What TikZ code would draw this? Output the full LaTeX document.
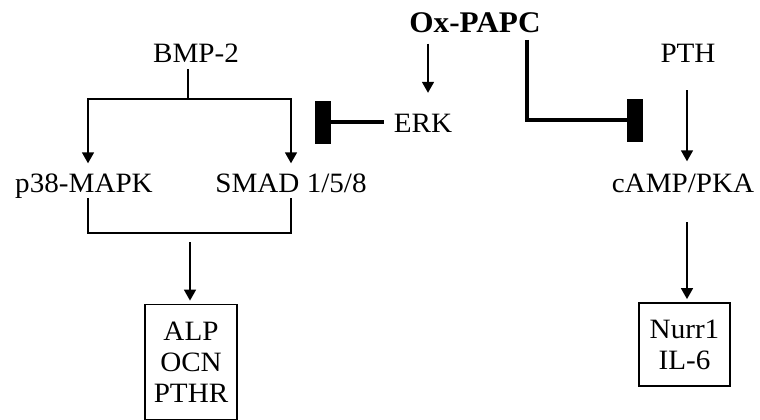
\documentclass[tikz,border=0pt]{standalone}
\usepackage{fontspec}
\setmainfont{Liberation Serif}[FakeStretch=1.04]
\usetikzlibrary{arrows.meta}
\begin{document}
\begin{tikzpicture}[x=1pt,y=-1pt,
  lbl/.style={inner sep=0pt, text height=19pt, text depth=6pt, font=\fontsize{28}{31}\selectfont},
  oxlbl/.style={inner sep=0pt, text height=20pt, text depth=6pt, font=\fontsize{30}{32}\selectfont\bfseries},
  conn/.style={line width=1.6pt},
  arr/.style={conn, -{Triangle[width=12pt,length=11pt]}},
  inh/.style={line width=4.5pt, -{Rectangle[length=16pt,width=43pt]}},
  outbox/.style={draw, line width=1.8pt, inner sep=0pt, align=center, font=\fontsize{28}{31}\selectfont}]
\useasboundingbox (0,0) rectangle (760,420);
% labels
\node[lbl] (bmp) at (196,56.5) {BMP-2};
\node[oxlbl] (ox) at (475,25.5) {Ox-PAPC};
\node[lbl] (pth) at (688,56.5) {PTH};
\node[lbl] (erk) at (423,125.5) {ERK};
\node[lbl] (p38) at (84,185.5) {p38-MAPK};
\node[lbl] (smad) at (291,185.5) {SMAD 1/5/8};
\node[lbl] (camp) at (683,185.5) {cAMP/PKA};
\node[outbox, minimum width=92pt, minimum height=115pt] (alp) at (191,362) {ALP\\OCN\\PTHR};
\node[outbox, minimum width=91pt, minimum height=83pt] (nurr) at (684.5,344.5) {Nurr1\\IL-6};
% coordinates
\coordinate (split) at (188,99);
\coordinate (lft) at (88,99);
\coordinate (rgt) at (291,99);
\coordinate (join) at (190,233);
\coordinate (rx) at (687,0);
\coordinate (ex) at (428,0);
\coordinate (erkbar) at (315,122);
\coordinate (oxstart) at (527,40);
\coordinate (campbar) at (643,120);
% BMP-2 branch
\draw[conn] (split |- bmp.south) -- (split);
\draw[arr, shorten >=9.5pt] (split) -- (lft) -- (lft |- p38.north);
\draw[arr, shorten >=9.5pt] (split) -- (rgt) -- (rgt |- smad.north);
% merge
\draw[conn] (lft |- p38.south) -- (lft |- join) -- (rgt |- join) -- (rgt |- smad.south);
\draw[arr, shorten <=9pt, shorten >=3pt] (join) -- (join |- alp.north);
% Ox-PAPC
\draw[arr, shorten <=5pt, shorten >=20pt] (ex |- ox.south) -- (ex |- erk.north);
\draw[inh, shorten <=10pt] (erk.west |- erkbar) -- (erkbar);
\draw[inh] (oxstart) |- (campbar);
% PTH branch
\draw[arr, shorten <=21pt, shorten >=11.5pt] (rx |- pth.south) -- (rx |- camp.north);
\draw[arr, shorten <=24pt, shorten >=3pt] (rx |- camp.south) -- (rx |- nurr.north);
\end{tikzpicture}
\end{document}
